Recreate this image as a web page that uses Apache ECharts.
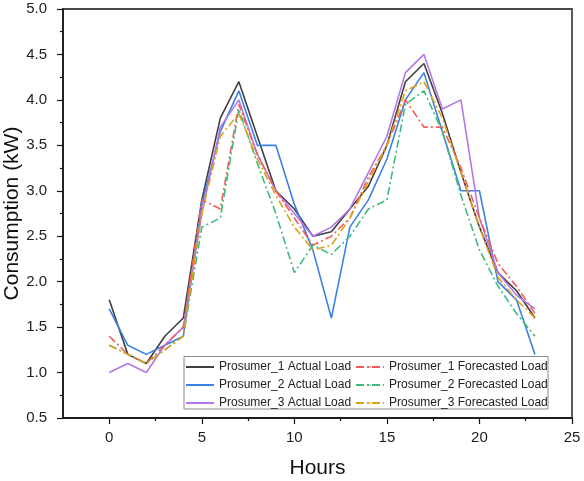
<!DOCTYPE html>
<html>
<head>
<meta charset="utf-8">
<script src="https://cdn.jsdelivr.net/npm/echarts@6/dist/echarts.min.js"></script>
<style>
html,body{margin:0;padding:0;background:#fff;}
#chart{width:584px;height:481px;}
</style>
</head>
<body>
<div id="chart"></div>
<script>
const hours = [0,1,2,3,4,5,6,7,8,9,10,11,12,13,14,15,16,17,18,19,20,21,22,23];
const p1Actual = [1.8,1.2,1.1,1.4,1.6,2.9,3.8,4.2,3.6,3.0,2.8,2.5,2.55,2.8,3.05,3.5,4.2,4.4,3.85,3.2,2.6,2.1,1.9,1.6];
const p2Actual = [1.7,1.3,1.2,1.3,1.4,2.85,3.65,4.1,3.5,3.5,2.85,2.35,1.6,2.6,2.9,3.35,4.0,4.3,3.65,3.0,3.0,2.0,1.8,1.2];
const p3Actual = [1.0,1.1,1.0,1.3,1.5,2.75,3.7,4.0,3.4,3.0,2.75,2.5,2.6,2.8,3.2,3.6,4.3,4.5,3.9,4.0,2.7,2.1,1.85,1.7];
const p1Fore = [1.4,1.2,1.1,1.3,1.5,2.9,2.8,3.95,3.4,3.0,2.7,2.4,2.5,2.7,3.15,3.5,4.0,3.7,3.7,3.25,2.7,2.2,1.95,1.65];
const p2Fore = [1.3,1.2,1.1,1.25,1.4,2.6,2.7,3.9,3.3,2.75,2.1,2.4,2.3,2.5,2.8,2.9,3.95,4.1,3.65,2.95,2.35,1.95,1.65,1.4];
const p3Fore = [1.3,1.2,1.1,1.25,1.4,2.75,3.6,3.85,3.35,2.95,2.6,2.35,2.4,2.7,3.1,3.5,4.1,4.2,3.8,3.2,2.6,2.05,1.8,1.6];
const xMajorTicks = [0,5,10,15,20,25];
const xMinorTicks = [2.5,7.5,12.5,17.5,22.5];
const names = ['Prosumer_1 Actual Load','Prosumer_2 Actual Load','Prosumer_3 Actual Load',
               'Prosumer_1 Forecasted Load','Prosumer_2 Forecasted Load','Prosumer_3 Forecasted Load'];

const FONT = 'Arial, "Liberation Sans", sans-serif';
const pair = arr => hours.map((h,i)=>[h,arr[i]]);
const dashDot = [8,3,2,3];
const ICON_SOLID = 'path://M0,0H28V2H0Z';
const ICON_DASH = 'path://M0,0H11V2H0Z M14,0H17V2H14Z M20,0H28V2H20Z';
function mk(name, data, color, dashed){
  return {
    name, type:'line', data: pair(data), symbol:'none', showSymbol:false,
    legendIcon: dashed ? ICON_DASH : ICON_SOLID,
    lineStyle:{color, width:1.6, type: dashed ? dashDot : 'solid'},
    itemStyle:{color}, z:2, animation:false
  };
}
const chart = echarts.init(document.getElementById('chart'));
const legendCommon = {
  orient:'vertical', top:360, padding:0, itemWidth:28, itemHeight:2, itemGap:4, z:10,
  textStyle:{fontFamily:FONT, fontSize:12, color:'#222', lineHeight:14}, selectedMode:false
};
chart.setOption({
  animation:false,
  grid:{left:63, right:12, top:9, bottom:63, show:true, borderColor:'#4a4a4a', borderWidth:1.8,
        containLabel:false, outerBoundsMode:'none'},
  xAxis:[{
    type:'value', min:-2.5, max:25,
    name:'Hours', nameLocation:'middle', nameGap:40, nameMoveOverlap:false,
    nameTextStyle:{fontFamily:FONT, fontSize:21, color:'#111'},
    axisLine:{show:true, onZero:false, lineStyle:{color:'#111', width:1.5}},
    axisTick:{show:true, customValues:xMajorTicks, length:6, lineStyle:{color:'#111', width:1.2}},
    axisLabel:{customValues:xMajorTicks, fontFamily:FONT, fontSize:15, color:'#222', margin:12},
    splitLine:{show:false}
  },{
    type:'value', min:-2.5, max:25, position:'bottom',
    axisLine:{show:false, onZero:false},
    axisTick:{show:true, customValues:xMinorTicks, length:3, lineStyle:{color:'#111', width:1.2}},
    axisLabel:{show:false}, splitLine:{show:false}
  }],
  yAxis:{
    type:'value', min:0.5, max:5, interval:0.5,
    name:'Consumption (kW)', nameLocation:'middle', nameGap:40, nameMoveOverlap:false,
    nameTextStyle:{fontFamily:FONT, fontSize:21, color:'#111'},
    axisLine:{show:true, onZero:false, lineStyle:{color:'#111', width:1.5}},
    axisTick:{show:true, length:6, lineStyle:{color:'#111', width:1.2}},
    minorTick:{show:true, splitNumber:2, length:3, lineStyle:{color:'#111', width:1.2}},
    axisLabel:{fontFamily:FONT, fontSize:15, color:'#222', margin:16, formatter:v=>v.toFixed(1)},
    splitLine:{show:false}
  },
  legend:[
    Object.assign({}, legendCommon, {left:185, data:names.slice(0,3)}),
    Object.assign({}, legendCommon, {left:355, data:names.slice(3)})
  ],
  graphic:[{
    type:'rect', z:3, silent:true,
    shape:{x:184, y:356.5, width:364, height:52.5},
    style:{fill:'#fff', stroke:'#8a8a8a', lineWidth:1}
  }],
  series:[
    mk(names[0], p1Actual, '#404040', false),
    mk(names[1], p2Actual, '#3c82e6', false),
    mk(names[2], p3Actual, '#b577e8', false),
    mk(names[3], p1Fore, '#f25c5c', true),
    mk(names[4], p2Fore, '#3fba7c', true),
    mk(names[5], p3Fore, '#dea217', true)
  ]
});
</script>
</body>
</html>
